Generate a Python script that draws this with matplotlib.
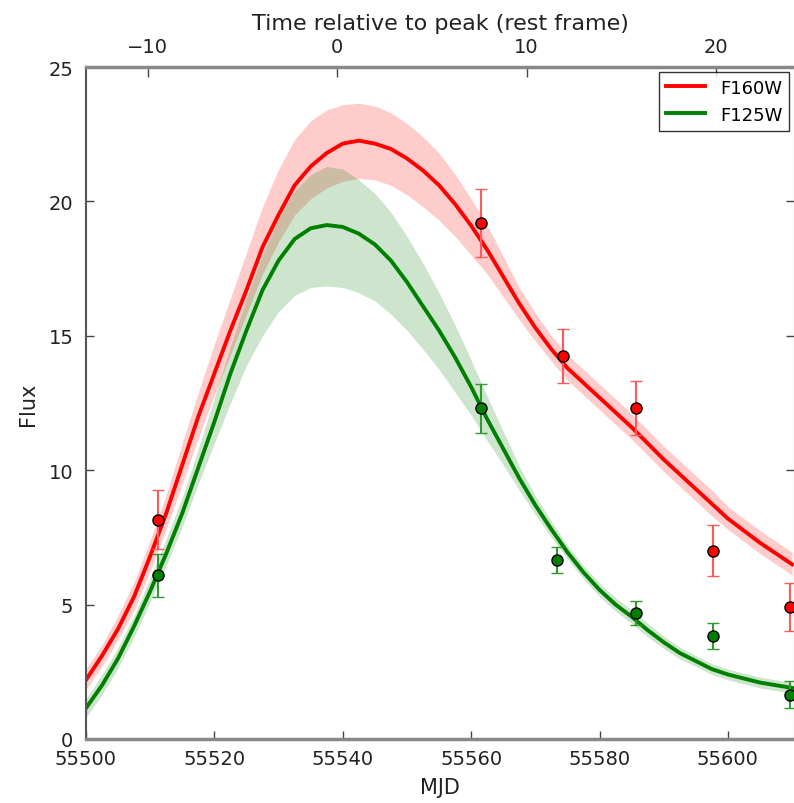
import numpy as np
import matplotlib.pyplot as plt

# observed photometry
mjd_160 = [55511.2, 55561.5, 55574.3, 55585.7, 55597.7, 55609.6]
flux_160 = [8.15, 19.2, 14.25, 12.3, 7.0, 4.9]
err_160 = [1.1, 1.25, 1.0, 1.0, 0.95, 0.9]

mjd_125 = [55511.2, 55561.5, 55573.3, 55585.7, 55597.7, 55609.6]
flux_125 = [6.1, 12.3, 6.66, 4.7, 3.83, 1.65]
err_125 = [0.8, 0.9, 0.5, 0.45, 0.5, 0.5]

# model curves and their bands
mod_mjd = [55500, 55502.5, 55505, 55507.5, 55510, 55512.5, 55515, 55517.5,
           55520, 55522.5, 55525, 55527.5, 55530, 55532.5, 55535, 55537.5,
           55540, 55542.5, 55545, 55547.5, 55550, 55552.5, 55555, 55557.5,
           55560, 55562.5, 55565, 55567.5, 55570, 55572.5, 55575, 55577.5,
           55580, 55582.5, 55585, 55587.5, 55590, 55592.5, 55595, 55597.5,
           55600, 55602.5, 55605, 55607.5, 55610]
mod_160 = [2.2, 3.1, 4.1, 5.3, 6.8, 8.4, 10.2, 12.0,
           13.6, 15.2, 16.7, 18.3, 19.5, 20.6, 21.3, 21.8,
           22.15, 22.26, 22.15, 21.95, 21.6, 21.15, 20.6, 19.9,
           19.1, 18.2, 17.2, 16.2, 15.3, 14.5, 13.8, 13.25,
           12.7, 12.15, 11.6, 11.0, 10.4, 9.85, 9.3, 8.75,
           8.2, 7.75, 7.3, 6.9, 6.5]
lo_160 = [1.85, 2.7, 3.7, 4.8, 6.25, 7.8, 9.5, 11.2,
          12.8, 14.3, 15.8, 17.3, 18.5, 19.5, 20.1, 20.5,
          20.75, 20.85, 20.8, 20.6, 20.25, 19.8, 19.3, 18.7,
          18.0, 17.3, 16.45, 15.6, 14.8, 14.05, 13.35, 12.8,
          12.25, 11.7, 11.15, 10.55, 9.95, 9.4, 8.85, 8.3,
          7.8, 7.35, 6.9, 6.5, 6.1]
hi_160 = [2.6, 3.5, 4.6, 5.85, 7.4, 9.1, 11.0, 12.9,
          14.7, 16.4, 18.1, 19.8, 21.2, 22.3, 23.0, 23.4,
          23.6, 23.65, 23.55, 23.3, 22.9, 22.4, 21.8, 21.0,
          20.1, 19.1, 17.95, 16.8, 15.85, 15.0, 14.3, 13.75,
          13.2, 12.65, 12.1, 11.5, 10.9, 10.35, 9.8, 9.25,
          8.65, 8.2, 7.75, 7.35, 6.95]

mod_125 = [1.15, 2.0, 3.0, 4.2, 5.5, 6.9, 8.4, 10.1,
           11.8, 13.6, 15.2, 16.7, 17.8, 18.6, 19.0, 19.12,
           19.05, 18.8, 18.4, 17.8, 17.0, 16.1, 15.2, 14.2,
           13.1, 11.9, 10.8, 9.7, 8.7, 7.8, 6.95, 6.2,
           5.55, 5.0, 4.55, 4.05, 3.6, 3.2, 2.9, 2.6,
           2.4, 2.25, 2.1, 2.0, 1.9]
lo_125 = [0.8, 1.65, 2.65, 3.8, 5.1, 6.45, 7.9, 9.5,
          11.0, 12.5, 13.9, 15.0, 15.9, 16.5, 16.8, 16.85,
          16.8, 16.6, 16.3, 15.8, 15.2, 14.5, 13.75, 12.9,
          12.05, 11.1, 10.2, 9.25, 8.35, 7.5, 6.7, 5.95,
          5.3, 4.75, 4.3, 3.8, 3.37, 2.98, 2.7, 2.4,
          2.2, 2.05, 1.9, 1.8, 1.7]
hi_125 = [1.5, 2.4, 3.4, 4.6, 6.0, 7.45, 9.0, 10.8,
          12.7, 14.6, 16.4, 18.0, 19.4, 20.4, 21.0, 21.3,
          21.2, 20.8, 20.3, 19.6, 18.7, 17.7, 16.6, 15.4,
          14.1, 12.75, 11.45, 10.15, 9.05, 8.1, 7.2, 6.45,
          5.8, 5.25, 4.8, 4.3, 3.83, 3.42, 3.1, 2.8,
          2.6, 2.45, 2.3, 2.2, 2.1]

# rest-frame time axis: peak MJD and (1+z)
t0 = 55539.14
stretch = 2.949

fig = plt.figure(figsize=(7.94, 8.04), dpi=100)
ax = fig.add_axes([86 / 794, 64 / 804, 708 / 794, 672 / 804])

ax.fill_between(mod_mjd, lo_160, hi_160, color='red', alpha=0.2, lw=0)
ax.fill_between(mod_mjd, lo_125, hi_125, color='green', alpha=0.2, lw=0)
ax.plot(mod_mjd, mod_160, color='red', lw=2.8, label='F160W')
ax.plot(mod_mjd, mod_125, color='green', lw=2.8, label='F125W')

ax.errorbar(mjd_160, flux_160, yerr=err_160, fmt='o', color='red', mec='black',
            mew=1, ms=8, ecolor=(1, 0.35, 0.35), elinewidth=1.5, capsize=4, zorder=4)
ax.errorbar(mjd_125, flux_125, yerr=err_125, fmt='o', color='green', mec='black',
            mew=1, ms=8, ecolor=(0.2, 0.6, 0.2), elinewidth=1.5, capsize=4, zorder=4)

ax.set_xlim(55500, 55610.3)
ax.set_ylim(0, 25)
ax.set_xticks(range(55500, 55610, 20))
ax.set_yticks(range(0, 26, 5))
ax.set_xlabel('MJD', fontsize=15, color='#222222', labelpad=7)
ax.set_ylabel('Flux', fontsize=15, color='#222222', labelpad=8)
ax.tick_params(direction='in', length=6, width=1, colors='#444444',
               labelsize=14, labelcolor='#222222', right=True)
ax.tick_params(axis='y', pad=9)
ax.tick_params(axis='x', pad=7)

for s in ['top', 'bottom']:
    ax.spines[s].set_color('#888888')
    ax.spines[s].set_linewidth(2.5)
ax.spines['left'].set_color('#555555')
ax.spines['left'].set_linewidth(1.5)
ax.spines['right'].set_color('#555555')

top = ax.secondary_xaxis('top', functions=(lambda m: (m - t0) / stretch,
                                           lambda t: t * stretch + t0))
top.set_xticks([-10, 0, 10, 20])
top.tick_params(direction='in', length=7, width=1, colors='#444444',
                labelsize=14, labelcolor='#222222', pad=8)
top.set_xlabel('Time relative to peak (rest frame)', fontsize=16, color='#222222', labelpad=6)

leg = ax.legend(loc='upper right', fontsize=13, fancybox=False, edgecolor='black',
                borderaxespad=0.25, handlelength=2.2)
leg.get_frame().set_linewidth(1)

plt.savefig('out.png', dpi=100)
